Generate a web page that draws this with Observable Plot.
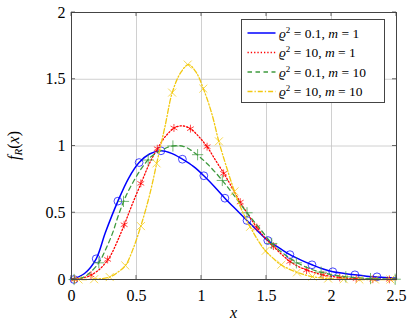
<!DOCTYPE html>
<html><head><meta charset="utf-8">
<script src="https://cdn.jsdelivr.net/npm/d3@7"></script>
<script src="https://cdn.jsdelivr.net/npm/@observablehq/plot@0.6"></script>
<style>
body{margin:0;background:#fff;font-family:"Liberation Serif"}
</style>
</head><body><div id="chart"></div>
<script>
const xTicks = [0, 0.5, 1, 1.5, 2, 2.5];
const yTicks = [0, 0.5, 1, 1.5, 2];
const seriesKeys = ["a", "b", "c", "d"];
const seriesRho = ["0.1", "10", "0.1", "10"];
const seriesM = ["1", "1", "10", "10"];
const seriesColors = ["#0000ff", "#ff0000", "#3f9a3f", "#f2c80f"];
const seriesDash = [null, "1.3,2", "4.5,3.5", "5,2,1.3,2"];
const seriesSymbols = ["circle", "asterisk", "plus", "times"];

// line samples
const aLineX = [0, 0.1, 0.19, 0.26, 0.357, 0.44, 0.52, 0.6, 0.688, 0.77, 0.853, 0.94, 1.018, 1.1, 1.18, 1.27, 1.35, 1.43, 1.51, 1.6, 1.68, 1.77, 1.85, 1.93, 2.01, 2.1, 2.18, 2.27, 2.35, 2.5];
const aLineY = [0, 0.045, 0.155, 0.35, 0.587, 0.76, 0.876, 0.94, 0.964, 0.945, 0.901, 0.845, 0.777, 0.695, 0.609, 0.52, 0.442, 0.365, 0.292, 0.235, 0.186, 0.143, 0.11, 0.08, 0.058, 0.045, 0.035, 0.025, 0.018, 0.009];
const bLineX = [0, 0.023, 0.1, 0.159, 0.23, 0.295, 0.35, 0.41, 0.47, 0.539, 0.6, 0.67, 0.73, 0.8, 0.86, 0.92, 0.98, 1.046, 1.11, 1.175, 1.24, 1.3, 1.37, 1.433, 1.49, 1.556, 1.62, 1.685, 1.75, 1.82, 1.88, 1.94, 2.07, 2.2, 2.33, 2.5];
const bLineY = [0, 0, 0.015, 0.037, 0.09, 0.17, 0.28, 0.42, 0.57, 0.73, 0.87, 0.995, 1.08, 1.14, 1.15, 1.125, 1.07, 0.99, 0.89, 0.79, 0.68, 0.575, 0.47, 0.38, 0.31, 0.245, 0.185, 0.132, 0.095, 0.068, 0.048, 0.033, 0.014, 0.005, 0.002, 0];
const cLineX = [0, 0.1, 0.21, 0.26, 0.313, 0.364, 0.415, 0.48, 0.544, 0.608, 0.685, 0.775, 0.864, 0.94, 1.044, 1.16, 1.25, 1.35, 1.45, 1.55, 1.65, 1.75, 1.85, 1.95, 2.05, 2.15, 2.3, 2.5];
const cLineY = [0, 0.02, 0.125, 0.22, 0.34, 0.49, 0.617, 0.74, 0.84, 0.916, 0.965, 1.0, 0.996, 0.954, 0.867, 0.742, 0.63, 0.5, 0.38, 0.262, 0.18, 0.118, 0.075, 0.047, 0.028, 0.016, 0.007, 0.002];
const dLineX = [0, 0.054, 0.17, 0.29, 0.35, 0.415, 0.47, 0.53, 0.6, 0.66, 0.72, 0.775, 0.84, 0.9, 0.96, 1.018, 1.08, 1.133, 1.19, 1.25, 1.31, 1.377, 1.43, 1.49, 1.55, 1.608, 1.67, 1.736, 1.79, 1.85, 1.92, 1.98, 2.09, 2.2, 2.5];
const dLineY = [0, 0, 0.002, 0.017, 0.05, 0.105, 0.22, 0.39, 0.63, 0.89, 1.15, 1.4, 1.55, 1.61, 1.55, 1.42, 1.24, 1.035, 0.85, 0.67, 0.52, 0.39, 0.3, 0.217, 0.16, 0.112, 0.08, 0.053, 0.036, 0.022, 0.012, 0.006, 0.002, 0, 0];

// marker positions
const aMarkX = [0.019, 0.19, 0.357, 0.52, 0.688, 0.853, 1.018, 1.18, 1.35, 1.51, 1.68, 1.85, 2.01, 2.18, 2.35];
const aMarkY = [0, 0.155, 0.587, 0.876, 0.964, 0.901, 0.777, 0.609, 0.442, 0.292, 0.186, 0.11, 0.058, 0.035, 0.02];
const bMarkX = [0.023, 0.15, 0.278, 0.405, 0.533, 0.66, 0.788, 0.915, 1.043, 1.17, 1.298, 1.425, 1.553, 1.68, 1.808, 1.935, 2.063, 2.19, 2.318, 2.445];
const bMarkY = [0, 0.033, 0.15, 0.41, 0.72, 0.98, 1.135, 1.13, 0.995, 0.795, 0.58, 0.39, 0.25, 0.135, 0.07, 0.035, 0.015, 0.006, 0.002, 0.001];
const cMarkX = [0.02, 0.21, 0.4, 0.59, 0.78, 0.97, 1.16, 1.35, 1.54, 1.73, 1.92, 2.11, 2.3, 2.49];
const cMarkY = [0, 0.125, 0.585, 0.895, 1.0, 0.935, 0.742, 0.5, 0.27, 0.125, 0.055, 0.02, 0.007, 0.002];
const dMarkX = [0.054, 0.174, 0.294, 0.414, 0.534, 0.654, 0.774, 0.894, 1.014, 1.134, 1.254, 1.374, 1.494, 1.614, 1.734, 1.854, 1.974, 2.094, 2.214, 2.334, 2.454];
const dMarkY = [0, 0.002, 0.018, 0.105, 0.4, 0.87, 1.4, 1.61, 1.43, 1.035, 0.66, 0.395, 0.215, 0.11, 0.053, 0.022, 0.007, 0.002, 0, 0, 0];

const lineSets = {a: [aLineX, aLineY], b: [bLineX, bLineY], c: [cLineX, cLineY], d: [dLineX, dLineY]};
const markSets = {a: [aMarkX, aMarkY], b: [bMarkX, bMarkY], c: [cMarkX, cMarkY], d: [dMarkX, dMarkY]};

const FONT = "Liberation Serif";
const marks = [
  Plot.gridX(xTicks, {stroke: "#c4c4c4", strokeOpacity: 1, strokeWidth: 0.8}),
  Plot.gridY(yTicks, {stroke: "#c4c4c4", strokeOpacity: 1, strokeWidth: 0.8}),
  Plot.axisX(xTicks, {tickSize: 0, tickPadding: 10, tickFormat: d => String(d), label: null, fontSize: 16}),
  Plot.axisY(yTicks, {tickSize: 0, tickPadding: 6, tickFormat: d => String(d), label: null, fontSize: 16})
];
seriesKeys.forEach((k, i) => {
  const [lx, ly] = lineSets[k];
  const [mx, my] = markSets[k];
  const ld = lx.map((x, j) => ({x, y: ly[j]}));
  const md = mx.map((x, j) => ({x, y: my[j]}));
  marks.push(Plot.line(ld, {x: "x", y: "y", stroke: seriesColors[i], strokeWidth: i === 0 ? 1.5 : 1.3, strokeDasharray: seriesDash[i], curve: "catmull-rom"}));
  marks.push(Plot.dot(md, {x: "x", y: "y", symbol: seriesSymbols[i], stroke: seriesColors[i], fill: "none", r: i === 0 ? 3.9 : 3.7, strokeWidth: 0.9, strokeOpacity: 0.8}));
});
marks.push(Plot.frame({stroke: "#444", strokeWidth: 1}));

const plot = Plot.plot({
  width: 411, height: 323,
  marginLeft: 71, marginRight: 15, marginTop: 12, marginBottom: 44,
  x: {domain: [0, 2.5]},
  y: {domain: [0, 2]},
  style: {fontSize: "16px", color: "#000", background: "#fff"},
  marks
});
document.getElementById("chart").appendChild(plot);

const svg = d3.select(plot);
const sx = plot.scale("x"), sy = plot.scale("y");
const x0 = sx.apply(0), x1 = sx.apply(2.5), y0 = sy.apply(0), y1 = sy.apply(2);
const tg = svg.append("g").attr("stroke", "#444").attr("stroke-width", 0.8);
xTicks.forEach(t => {
  const px = sx.apply(t);
  tg.append("line").attr("x1", px).attr("x2", px).attr("y1", y0).attr("y2", y0 - 4);
  tg.append("line").attr("x1", px).attr("x2", px).attr("y1", y1).attr("y2", y1 + 4);
});
yTicks.forEach(t => {
  const py = sy.apply(t);
  tg.append("line").attr("x1", x0).attr("x2", x0 + 4).attr("y1", py).attr("y2", py);
  tg.append("line").attr("x1", x1).attr("x2", x1 - 4).attr("y1", py).attr("y2", py);
});

// axis labels
svg.append("text").attr("x", (x0 + x1) / 2).attr("y", 318).attr("text-anchor", "middle")
  .attr("font-size", 16).attr("font-style", "italic").text("x");
const yl = svg.append("text").attr("transform", `translate(19,${(y0 + y1) / 2}) rotate(-90)`)
  .attr("text-anchor", "middle").attr("font-size", 16);
yl.append("tspan").attr("font-style", "italic").text("f");
yl.append("tspan").attr("font-style", "italic").attr("font-size", 11).attr("dy", 3).text("R");
yl.append("tspan").attr("dy", -3).text("(");
yl.append("tspan").attr("font-style", "italic").text("x");
yl.append("tspan").text(")");

// legend
const lg = svg.append("g");
lg.append("rect").attr("x", 241.5).attr("y", 19.5).attr("width", 143).attr("height", 83)
  .attr("fill", "#fff").attr("stroke", "#444").attr("stroke-width", 1);
const rowY = [33, 52.5, 72, 91.5];
seriesKeys.forEach((k, i) => {
  const ry = rowY[i];
  lg.append("line").attr("x1", 247.5).attr("x2", 275.5).attr("y1", ry).attr("y2", ry)
    .attr("stroke", seriesColors[i]).attr("stroke-width", i === 0 ? 1.5 : 1.3)
    .attr("stroke-dasharray", seriesDash[i]);
  const t = lg.append("text").attr("x", 279).attr("y", ry + 4.5).attr("text-anchor", "start").attr("font-size", 13.5);
  t.append("tspan").attr("font-style", "italic").text("ϱ");
  t.append("tspan").attr("font-size", 9).attr("dy", -5).text("2");
  t.append("tspan").attr("dy", 5).text(" = " + seriesRho[i] + ", ");
  t.append("tspan").attr("font-style", "italic").text("m");
  t.append("tspan").text(" = " + seriesM[i]);
});

// serif face for every text of the chart
svg.attr("font-family", FONT).style("font-family", FONT);
svg.selectAll("g").attr("font-family", null);
svg.selectAll("text, tspan").attr("font-family", FONT).style("font-family", FONT);
</script>
</body></html>
